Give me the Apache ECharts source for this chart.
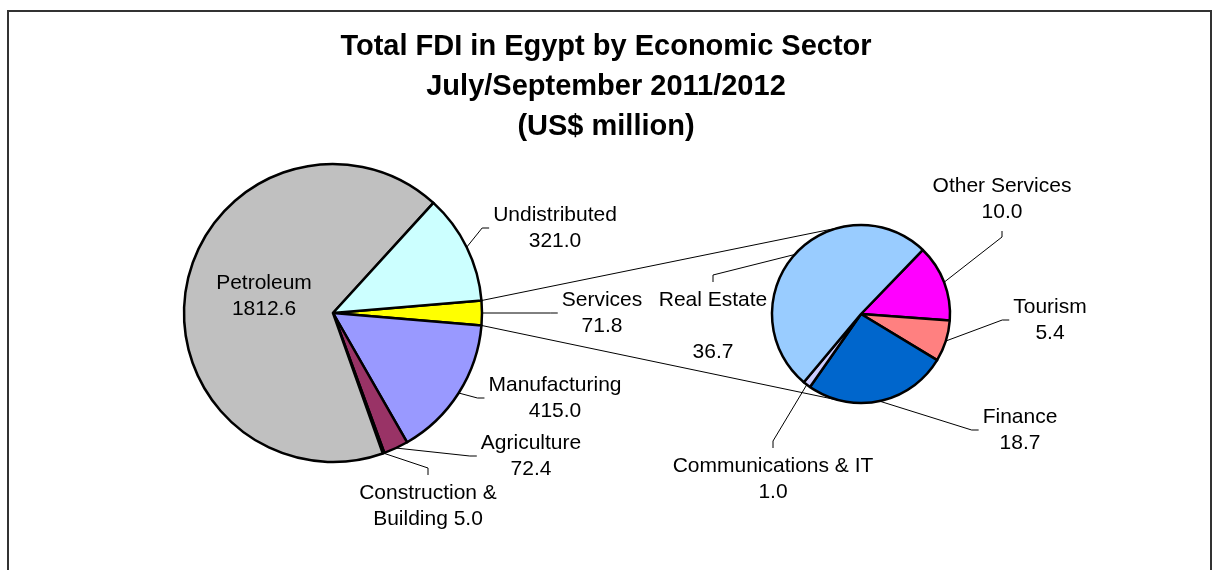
<!DOCTYPE html>
<html>
<head>
<meta charset="utf-8">
<title>Total FDI in Egypt by Economic Sector</title>
<script src="https://cdn.jsdelivr.net/npm/echarts@6/dist/echarts.min.js"></script>
<style>
  html, body { margin: 0; padding: 0; background: #fff; }
  #chart { width: 1212px; height: 570px; }
</style>
</head>
<body>
<div id="chart"></div>
<script>
// Main pie: all sectors (Services is broken out into the secondary pie)
const sectors = ['Services', 'Manufacturing', 'Agriculture', 'Construction & Building', 'Petroleum', 'Undistributed'];
const sectorValues = [71.8, 415.0, 72.4, 5.0, 1812.6, 321.0];
const sectorColors = ['#FFFF00', '#9999FF', '#993366', '#FFFFCC', '#C0C0C0', '#CCFFFF'];

// Secondary pie: breakdown of Services
const serviceBranches = ['Other Services', 'Tourism', 'Finance', 'Communications & IT', 'Real Estate'];
const serviceValues = [10.0, 5.4, 18.7, 1.0, 36.7];
const serviceColors = ['#FF00FF', '#FF8080', '#0066CC', '#CCCCFF', '#99CCFF'];

const titleLines = ['Total FDI in Egypt by Economic Sector', 'July/September 2011/2012', '(US$ million)'];

// Pie geometry (pixels)
const MAIN = { cx: 333, cy: 313, r: 149 };
const SUB = { cx: 861, cy: 314, r: 89, startAngle: 46 };

// Label text layouts
const labelTemplates = {
  'Construction & Building': (v) => 'Construction &\nBuilding ' + v,
  'Real Estate': (v) => 'Real Estate\n\n' + v
};

// Where each label block sits, and which side its leader line enters
const labelSpots = {
  'Petroleum': { x: 264, y: 296 },
  'Undistributed': { x: 555, y: 228, side: 'left' },
  'Services': { x: 602, y: 313, side: 'left' },
  'Manufacturing': { x: 555, y: 398, side: 'left' },
  'Agriculture': { x: 531, y: 456, side: 'left' },
  'Construction & Building': { x: 428, y: 506, side: 'top' },
  'Other Services': { x: 1002, y: 199, side: 'bottom' },
  'Tourism': { x: 1050, y: 320, side: 'left' },
  'Finance': { x: 1020, y: 430, side: 'left' },
  'Communications & IT': { x: 773, y: 479, side: 'top' },
  'Real Estate': { x: 713, y: 326, side: 'top' }
};

const FONT = 'Liberation Sans, Arial, sans-serif';

function formatLabel(p) {
  const v = Number(p.value).toFixed(1);
  const t = labelTemplates[p.name];
  return t ? t(v) : p.name + '\n' + v;
}

function makeLayout(names) {
  return function (params) {
    const name = names[params.dataIndex];
    const s = labelSpots[name];
    if (!s) return {};
    const out = { x: s.x, y: s.y, align: 'center', verticalAlign: 'middle' };
    if (s.side && params.labelLinePoints) {
      const w = params.labelRect.width, h = params.labelRect.height;
      const left = s.x - w / 2, top = s.y - h / 2;
      let end, elbow;
      if (s.side === 'left') {
        end = [left - 4, s.y];
        elbow = [end[0] - 7, s.y];
      } else if (s.side === 'top') {
        end = [s.x, top - 5];
        elbow = [s.x, end[1] - 7];
      } else {
        end = [s.x, top + h + 6];
        elbow = [s.x, end[1] + 6];
      }
      out.labelLinePoints = [params.labelLinePoints[0], elbow, end];
    }
    return out;
  };
}

function buildData(names, values, colors, insideNames) {
  return names.map((n, i) => ({
    name: n,
    value: values[i],
    itemStyle: { color: colors[i] },
    labelLine: { show: !(insideNames || []).includes(n) }
  }));
}

// Tangent line from a point to a circle, picking the top or bottom touch point
function tangentPoint(px, py, c, pickTop) {
  const dx = px - c.cx, dy = py - c.cy;
  const d = Math.sqrt(dx * dx + dy * dy);
  const theta = Math.atan2(dy, dx);
  const alpha = Math.acos(c.r / d);
  const a = [theta + alpha, theta - alpha].map(t => [c.cx + c.r * Math.cos(t), c.cy + c.r * Math.sin(t)]);
  a.sort((p, q) => p[1] - q[1]);
  return pickTop ? a[0] : a[1];
}

const total = sectorValues.reduce((a, b) => a + b, 0);
const servicesIdx = sectors.indexOf('Services');
const halfSpanDeg = 180 * sectorValues[servicesIdx] / total;
const mainStart = halfSpanDeg;

const halfRad = halfSpanDeg * Math.PI / 180;
const upFrom = [MAIN.cx + MAIN.r * Math.cos(halfRad), MAIN.cy - MAIN.r * Math.sin(halfRad)];
const dnFrom = [MAIN.cx + MAIN.r * Math.cos(halfRad), MAIN.cy + MAIN.r * Math.sin(halfRad)];
const upTo = tangentPoint(upFrom[0], upFrom[1], SUB, true);
const dnTo = tangentPoint(dnFrom[0], dnFrom[1], SUB, false);

const labelStyle = {
  show: true,
  position: 'outside',
  formatter: formatLabel,
  color: '#000',
  fontFamily: FONT,
  fontSize: 21,
  lineHeight: 26,
  align: 'center'
};
const lineStyle = { lineStyle: { color: '#000', width: 1 }, length: 10, length2: 10, smooth: false };
const sliceStyle = { borderColor: '#000', borderWidth: 2.5 };

const chart = echarts.init(document.getElementById('chart'), null, { renderer: 'canvas' });
chart.setOption({
  animation: false,
  backgroundColor: '#fff',
  title: {
    text: titleLines.join('\n'),
    left: 'center',
    top: 27,
    padding: 0,
    textStyle: { fontFamily: FONT, fontWeight: 'bold', fontSize: 29, lineHeight: 40, color: '#000' }
  },
  graphic: [
    {
      type: 'polyline', z: 0,
      shape: { points: [[8, 640], [8, 11], [1211, 11], [1211, 640]] },
      style: { fill: 'none', stroke: '#333', lineWidth: 2 }
    },
    {
      type: 'line', z: 1,
      shape: { x1: upFrom[0], y1: upFrom[1], x2: upTo[0], y2: upTo[1] },
      style: { stroke: '#000', lineWidth: 1 }
    },
    {
      type: 'line', z: 1,
      shape: { x1: dnFrom[0], y1: dnFrom[1], x2: dnTo[0], y2: dnTo[1] },
      style: { stroke: '#000', lineWidth: 1 }
    }
  ],
  series: [
    {
      type: 'pie',
      center: [MAIN.cx, MAIN.cy],
      radius: [0, MAIN.r],
      startAngle: mainStart,
      clockwise: true,
      avoidLabelOverlap: false,
      silent: true,
      emphasis: { disabled: true },
      itemStyle: sliceStyle,
      label: labelStyle,
      labelLine: lineStyle,
      labelLayout: makeLayout(sectors),
      data: buildData(sectors, sectorValues, sectorColors, ['Petroleum'])
    },
    {
      type: 'pie',
      center: [SUB.cx, SUB.cy],
      radius: [0, SUB.r],
      startAngle: SUB.startAngle,
      clockwise: true,
      avoidLabelOverlap: false,
      silent: true,
      emphasis: { disabled: true },
      itemStyle: sliceStyle,
      label: labelStyle,
      labelLine: lineStyle,
      labelLayout: makeLayout(serviceBranches),
      data: buildData(serviceBranches, serviceValues, serviceColors, [])
    }
  ]
});
</script>
</body>
</html>
